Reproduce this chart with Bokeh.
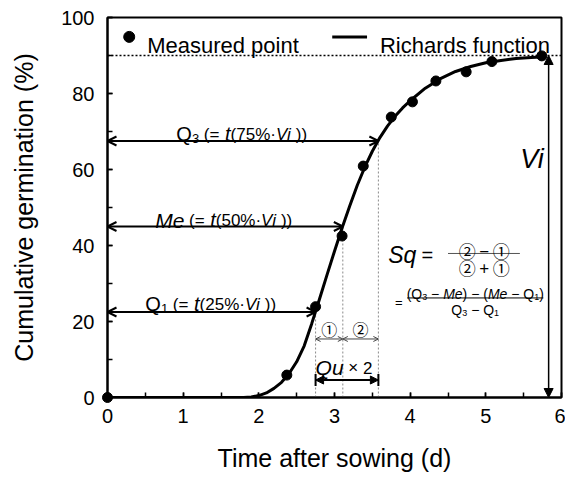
from bokeh.plotting import figure
from bokeh.models import (Label, Arrow, OpenHead, NormalHead,
                          SingleIntervalTicker, Range1d)
from bokeh.embed import file_html
from bokeh.resources import INLINE

# Measured cumulative germination (%) against time after sowing (d)
time_days = [0.0, 2.37, 2.75, 3.10, 3.38, 3.75, 4.03, 4.34, 4.74, 5.08, 5.74]
germ_pct = [0.0, 5.9, 23.9, 42.5, 60.9, 73.8, 77.8, 83.3, 85.7, 88.4, 89.9]

# Fitted Richards function, sampled along the time axis
curve_t = [0.0, 1.8, 1.9, 2.0, 2.1, 2.2, 2.3, 2.4, 2.5, 2.6, 2.7, 2.8, 2.9,
           3.0, 3.1, 3.2, 3.3, 3.4, 3.5, 3.6, 3.7, 3.8, 3.9, 4.0, 4.2, 4.4,
           4.6, 4.8, 5.0, 5.2, 5.4, 5.6, 5.8]
curve_g = [0.0, 0.0, 0.15, 0.5, 1.2, 2.4, 4.0, 6.3, 9.4, 13.6, 19.5, 25.8,
           32.2, 38.5, 44.6, 50.3, 55.8, 60.6, 64.8, 68.4, 71.4, 74.0, 76.2,
           78.1, 81.4, 83.9, 85.8, 87.1, 88.1, 88.7, 89.2, 89.5, 89.7]

# Final germination and the quartile times of the fitted curve
vi = 90.0
q1, me, q3 = 2.75, 3.11, 3.58
vi_x = 5.83

FONT = "Liberation Sans"
CJK = "Noto Sans CJK JP"

p = figure(frame_width=454, frame_height=380, output_backend="svg",
           toolbar_location=None, x_range=Range1d(0, 6), y_range=Range1d(0, 100),
           min_border_left=107, min_border_right=4, min_border_top=17,
           min_border_bottom=85)
p.background_fill_color = "white"
p.border_fill_color = "white"
p.grid.visible = False
p.outline_line_color = "black"
p.outline_line_width = 2

p.xaxis.ticker = SingleIntervalTicker(interval=1, num_minor_ticks=2)
p.yaxis.ticker = SingleIntervalTicker(interval=20, num_minor_ticks=2)
for ax in (p.xaxis[0], p.yaxis[0]):
    ax.axis_line_width = 2
    ax.major_tick_in = 5
    ax.major_tick_out = 0
    ax.minor_tick_in = 5
    ax.minor_tick_out = 0
    ax.major_tick_line_width = 1.5
    ax.minor_tick_line_width = 1.5
    ax.major_label_text_font = FONT
    ax.major_label_text_font_size = "20px"
    ax.major_label_text_color = "black"
    ax.axis_label_text_font = FONT
    ax.axis_label_text_font_size = "25px"
    ax.axis_label_text_font_style = "normal"
    ax.axis_label_text_color = "black"
p.xaxis.axis_label = "Time after sowing (d)"
p.yaxis.axis_label = "Cumulative germination (%)"
p.xaxis.major_label_standoff = 11
p.xaxis.axis_label_standoff = 18
p.yaxis.major_label_standoff = 13
p.yaxis.axis_label_standoff = 20

# Approximate advance widths (em) for laying out mixed-style labels
W = {"Q": .778, "M": .833, "e": .556, "u": .556, "t": .278, "V": .667,
     "i": .222, "(": .333, ")": .333, "=": .584, " ": .278, "%": .889,
     "·": .333, "×": .584, "−": .584, "+": .584, "S": .667, "q": .556}


def adv(s, size):
    return sum(W.get(c, .556) for c in s) * size


def rich(x, y, parts, align="left"):
    """Draw a run of text pieces (text, size, style, dy) from one anchor.

    Leading/trailing spaces only advance the pen; SVG text drops them.
    """
    total = sum(adv(t, sz) for t, sz, _, _ in parts)
    off = 0 if align == "left" else -total / 2
    for t, sz, style, dy in parts:
        lead = len(t) - len(t.lstrip(" "))
        body = t.strip(" ")
        p.add_layout(Label(x=x, y=y, x_offset=off + adv(" " * lead, sz),
                           y_offset=dy, text=body,
                           text_font=FONT, text_font_size=f"{sz}px",
                           text_font_style=style, text_color="black",
                           text_baseline="alphabetic", text_align="left"))
        off += adv(t, sz)


# Vi level
p.line([0, 6], [vi, vi], line_color="black", line_width=1.5, line_dash="2 2")

# Quartile drop lines
for q, frac in ((q1, .25), (me, .5), (q3, .75)):
    p.line([q, q], [0, frac * vi], line_color="#8a8a8a", line_width=1,
           line_dash="2 2")

# Fitted curve and measured points
p.line(curve_t, curve_g, line_color="black", line_width=3)
p.scatter(time_days, germ_pct, size=10, color="black", level="overlay")

# Quartile arrows
for q, frac in ((q1, .25), (me, .5), (q3, .75)):
    p.add_layout(Arrow(x_start=0, y_start=frac * vi, x_end=q, y_end=frac * vi,
                       line_width=2,
                       start=OpenHead(size=9, line_width=2),
                       end=OpenHead(size=9, line_width=2)))

rich(0.91, 69.3, [("Q", 20, "normal", 0), ("3", 13, "normal", -4),
                  (" (=", 17, "normal", 0), (" t", 20, "italic", 0),
                  ("(75%·", 17, "normal", 0), ("Vi", 17, "italic", 0),
                  (" ))", 17, "normal", 0)])
rich(0.63, 46.6, [("Me", 21, "italic", 0), (" (=", 17, "normal", 0),
                  (" t", 20, "italic", 0), ("(50%·", 17, "normal", 0),
                  ("Vi", 17, "italic", 0), (" ))", 17, "normal", 0)])
rich(0.50, 24.6, [("Q", 20, "normal", 0), ("1", 13, "normal", -4),
                  (" (=", 17, "normal", 0), (" t", 20, "italic", 0),
                  ("(25%·", 17, "normal", 0), ("Vi", 17, "italic", 0),
                  (" ))", 17, "normal", 0)])

# Spread between quartiles: segments 1 and 2
for a, b, mark in ((q1, me, "①"), (me, q3, "②")):
    p.add_layout(Arrow(x_start=a, y_start=15.4, x_end=b, y_end=15.4,
                       line_width=1, line_color="#444444",
                       start=OpenHead(size=5, line_width=1, line_color="#444444"),
                       end=OpenHead(size=5, line_width=1, line_color="#444444")))
    p.add_layout(Label(x=(a + b) / 2, y=18.0, text=mark, text_font=CJK,
                       text_font_size="16px", text_align="center",
                       text_baseline="middle", text_color="black"))

# Quartile range Qu x 2
p.add_layout(Arrow(x_start=q1, y_start=4.6, x_end=q3, y_end=4.6, line_width=2,
                   start=NormalHead(size=8, fill_color="black"),
                   end=NormalHead(size=8, fill_color="black")))
p.segment(x0=[q1, q3], y0=[3.0, 3.0], x1=[q1, q3], y1=[6.2, 6.2],
          line_color="black", line_width=2)
rich(q1, 7.8, [("Qu", 21, "italic", 0), (" ×", 17, "normal", 0),
               (" 2", 17, "normal", 0)])

# Final germination Vi
p.add_layout(Arrow(x_start=vi_x, y_start=0, x_end=vi_x, y_end=vi,
                   line_width=1.5,
                   start=NormalHead(size=9, fill_color="black"),
                   end=NormalHead(size=9, fill_color="black")))
p.add_layout(Label(x=5.61, y=62.8, text="Vi", text_font=FONT,
                   text_font_size="27px", text_font_style="italic",
                   text_align="center", text_baseline="middle",
                   text_color="black"))

# Quartile skewness Sq
rich(3.71, 37.5, [("Sq", 23, "italic", 0)])
rich(4.15, 37.5, [("=", 20, "normal", 0)])
p.add_layout(Label(x=4.98, y=38.7, text="② − ①", text_font=CJK,
                   text_font_size="17px", text_align="center",
                   text_baseline="alphabetic", text_color="black"))
p.segment(x0=[4.50], y0=[37.9], x1=[5.45], y1=[37.9], line_color="#555555",
          line_width=1)
p.add_layout(Label(x=4.98, y=34.1, text="② + ①", text_font=CJK,
                   text_font_size="17px", text_align="center",
                   text_baseline="alphabetic", text_color="black"))

rich(3.80, 24.9, [("=", 13, "normal", 0)])
rich(4.86, 27.3, [("(Q", 14, "normal", 0), ("3", 9, "normal", -3),
                  (" −", 14, "normal", 0), (" Me", 14, "italic", 0),
                  (")", 14, "normal", 0), (" −", 14, "normal", 0),
                  (" (", 14, "normal", 0), ("Me", 14, "italic", 0),
                  (" −", 14, "normal", 0), (" Q", 14, "normal", 0),
                  ("1", 9, "normal", -3), (")", 14, "normal", 0)],
     align="center")
p.segment(x0=[3.96], y0=[26.2], x1=[5.76], y1=[26.2], line_color="black",
          line_width=1)
rich(4.86, 23.0, [("Q", 14, "normal", 0), ("3", 9, "normal", -3),
                  (" −", 14, "normal", 0), (" Q", 14, "normal", 0),
                  ("1", 9, "normal", -3)],
     align="center")

# Key
p.scatter([0.287], [94.9], size=11, color="black")
p.line([2.97, 3.43], [94.9, 94.9], line_color="black", line_width=3)
p.add_layout(Label(x=0.524, y=92.6, text="Measured point", text_font=FONT,
                   text_font_size="22px", text_baseline="alphabetic",
                   text_color="black"))
p.add_layout(Label(x=3.60, y=92.6, text="Richards function", text_font=FONT,
                   text_font_size="22px", text_baseline="alphabetic",
                   text_color="black"))

open("out.html", "w").write(file_html(p, INLINE))
